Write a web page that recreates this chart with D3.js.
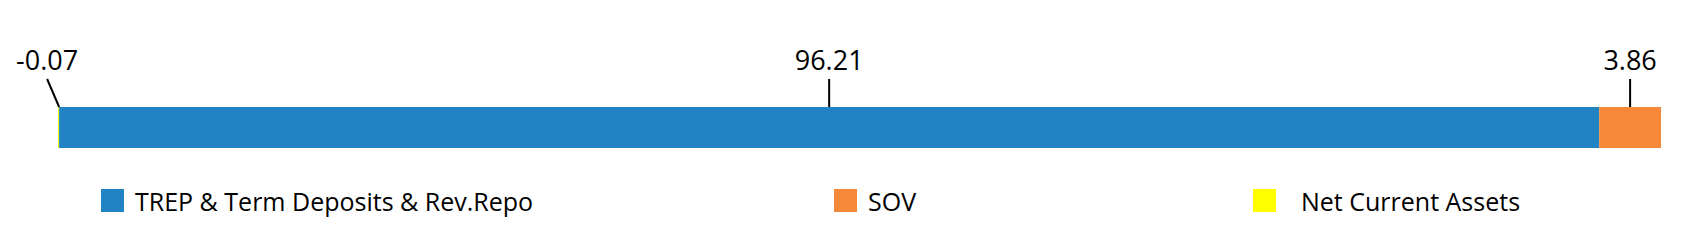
<!DOCTYPE html>
<html><head><meta charset="utf-8">
<script src="https://cdn.jsdelivr.net/npm/d3@7/dist/d3.min.js"></script>
<style>
html,body{margin:0;padding:0;background:#fff;}
svg{display:block;font-family:"Open Sans",sans-serif;}
</style></head>
<body>
<svg id="chart" width="1681" height="243"></svg>
<script>
// Data
const categories = ["Net Current Assets", "TREP & Term Deposits & Rev.Repo", "SOV"];
const values = [-0.07, 96.21, 3.86];
const colors = ["#ffff00", "#2283c4", "#f6883a"];
const legendOrder = ["TREP & Term Deposits & Rev.Repo", "SOV", "Net Current Assets"];
const legendX = [101, 834, 1253];

const svg = d3.select("#chart");

// Stack segments (negatives diverge left from zero)
let pos = 0, neg = 0;
const segs = categories.map((c, i) => {
  const v = values[i];
  let s, e;
  if (v >= 0) { s = pos; e = pos + v; pos = e; }
  else { s = neg + v; e = neg; neg = s; }
  return {cat: c, value: v, start: s, end: e, color: colors[i]};
});

const x = d3.scaleLinear()
  .domain([d3.min(segs, d => d.start), d3.max(segs, d => d.end)])
  .range([58, 1661]);

const barY = 107, barH = 41;
const fmt = d3.formatLocale({decimal: ".", thousands: ",", grouping: [3], currency: ["", ""], minus: "-"}).format(".2f");

svg.append("g").selectAll("rect").data(segs).join("rect")
  .attr("x", d => x(Math.min(d.start, d.end)))
  .attr("y", barY)
  .attr("width", d => Math.abs(x(d.end) - x(d.start)))
  .attr("height", barH)
  .attr("fill", d => d.color);

// Labels with leader lines
const lab = svg.append("g");
segs.forEach(d => {
  let ax, tx;
  if (d.value < 0) { ax = x(0); tx = ax - 12; }
  else { ax = x((d.start + d.end) / 2); tx = ax; }
  lab.append("line")
    .attr("x1", ax).attr("y1", barY)
    .attr("x2", tx).attr("y2", 79)
    .attr("stroke", "#000").attr("stroke-width", 2);
  lab.append("text")
    .attr("x", tx).attr("y", 70)
    .attr("text-anchor", "middle")
    .attr("font-size", 27)
    .attr("fill", "#000")
    .text(fmt(d.value));
});

// Legend
const lg = svg.append("g");
legendOrder.forEach((name, i) => {
  const idx = categories.indexOf(name);
  const g = lg.append("g").attr("transform", `translate(${legendX[i]},189)`);
  g.append("rect").attr("width", 23).attr("height", 23).attr("fill", colors[idx]);
  g.append("text").attr("x", i === 2 ? 48 : 34).attr("y", 21.5)
    .attr("font-size", 25).attr("fill", "#000").text(name);
});
</script>
</body></html>
